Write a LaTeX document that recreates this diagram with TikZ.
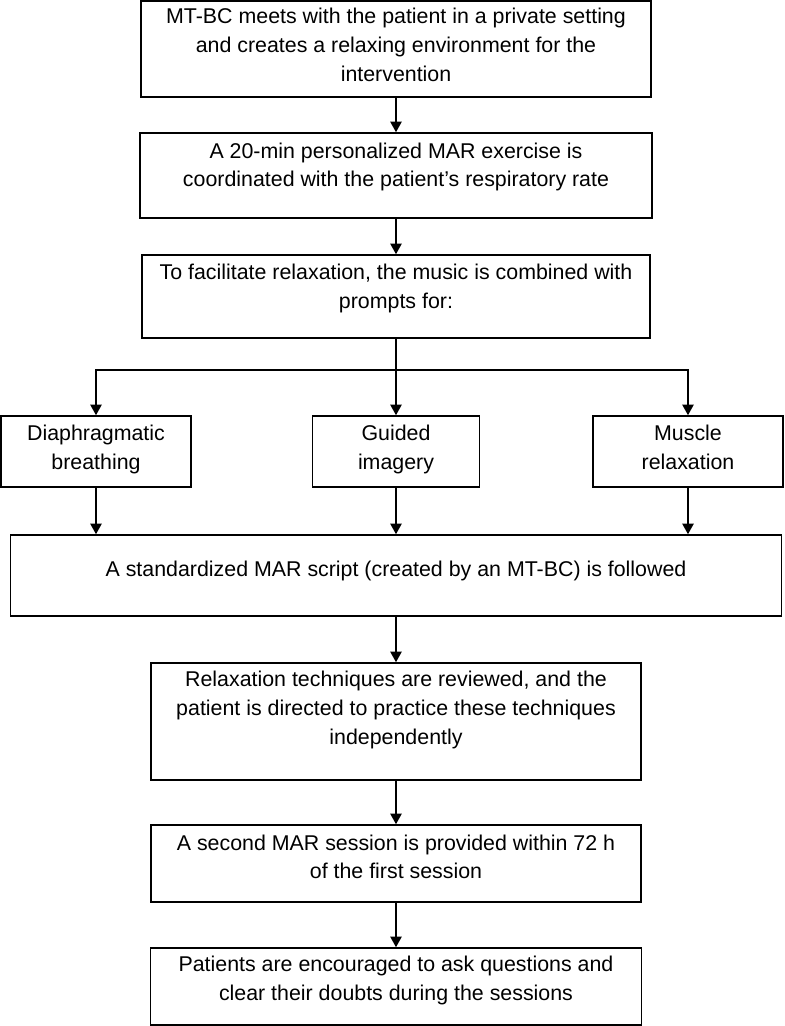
\documentclass[tikz,border=0pt]{standalone}
\usepackage{fontspec}
\setmainfont{Liberation Sans}
\usepackage{tikz}
\usetikzlibrary{positioning,calc,arrows.meta}

\begin{document}
\begin{tikzpicture}[
  txt/.style={align=center, inner sep=0pt, font=\fontsize{15.2}{20.6}\selectfont,
    execute at begin node=\rule{0pt}{20pt}, execute at end node=\strut},
  box/.style={draw=black, line width=1.1pt, txt},
  arr/.style={line width=1.1pt, -{Triangle[length=7.5pt, width=8pt]}},
  link/.style={line width=1.1pt}
]
  \useasboundingbox (0,0) rectangle (19.625,-25.65);

  % Main steps (top)
  \node[box, minimum width=12.75cm, minimum height=2.4cm] (setting) at (9.9,-1.225)
    {MT-BC meets with the patient in a private setting\\and creates a relaxing environment for the\\intervention};
  \node[box, minimum width=12.8cm, minimum height=2.125cm,
    label={[txt, name=exercise-t, yshift=0.16cm]center:{A 20-min personalized MAR exercise is\\coordinated with the patient’s respiratory rate}}]
    (exercise) at (9.9,-4.3875) {};
  \node[box, minimum width=12.7cm, minimum height=2.075cm,
    label={[txt, name=prompts-t, yshift=0.14cm]center:{To facilitate relaxation, the music is combined with\\prompts for:}}]
    (prompts) at (9.9,-7.4125) {};

  % Prompts
  \node[box, minimum width=4.75cm, minimum height=1.775cm] (breathing) at (2.4,-11.2875)
    {Diaphragmatic\\breathing};
  \node[box, minimum width=4.175cm, minimum height=1.775cm] (imagery) at (9.9,-11.2875)
    {Guided\\imagery};
  \node[box, minimum width=4.75cm, minimum height=1.775cm] (muscle) at (17.2,-11.2875)
    {Muscle\\relaxation};

  % Main steps (bottom)
  \node[box, minimum width=19.275cm, minimum height=2.025cm,
    label={[txt, name=script-t, yshift=0.225cm]center:{A standardized MAR script (created by an MT-BC) is followed}}]
    (script) at (9.9,-14.3875) {};
  \node[box, minimum width=12.25cm, minimum height=2.925cm,
    label={[txt, name=review-t, yshift=0.24cm]center:{Relaxation techniques are reviewed, and the\\patient is directed to practice these techniques\\independently}}]
    (review) at (9.9,-18.0375) {};
  \node[box, minimum width=12.25cm, minimum height=1.925cm,
    label={[txt, name=second-t, yshift=0.06cm]center:{A second MAR session is provided within 72 h\\of the first session}}]
    (second) at (9.9,-21.5875) {};
  \node[box, minimum width=12.275cm, minimum height=1.925cm,
    label={[txt, name=questions-t, yshift=0.1cm]center:{Patients are encouraged to ask questions and\\clear their doubts during the sessions}}]
    (questions) at (9.9,-24.6625) {};

  % Connectors
  \coordinate (split) at (9.9,-9.25);
  \draw[arr] (setting) -- (exercise);
  \draw[arr] (exercise) -- (prompts);
  \draw[link] (prompts) -- (split);
  \draw[arr] (split) -| (breathing);
  \draw[arr] (split) -- (imagery);
  \draw[arr] (split) -| (muscle);
  \draw[arr] (breathing) -- (breathing |- script.north);
  \draw[arr] (imagery) -- (script);
  \draw[arr] (muscle) -- (muscle |- script.north);
  \draw[arr] (script) -- (review);
  \draw[arr] (review) -- (second);
  \draw[arr] (second) -- (questions);
\end{tikzpicture}
\end{document}
